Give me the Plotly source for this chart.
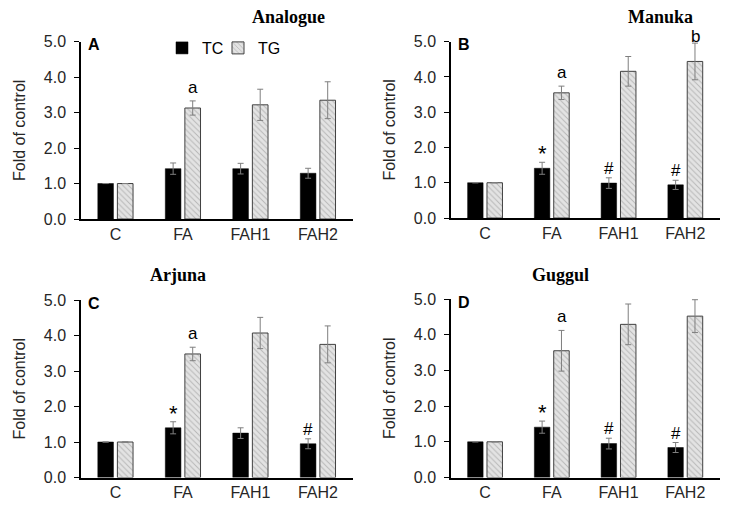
import plotly.graph_objects as go

categories = ["C", "FA", "FAH1", "FAH2"]
panels = ["Analogue", "Manuka", "Arjuna", "Guggul"]
letters = ["A", "B", "C", "D"]

tc_values = {
    "Analogue": [1.0, 1.42, 1.42, 1.29],
    "Manuka": [1.0, 1.41, 0.99, 0.94],
    "Arjuna": [1.0, 1.40, 1.25, 0.95],
    "Guggul": [1.0, 1.41, 0.95, 0.84],
}
tc_err = {
    "Analogue": [0.0, 0.16, 0.15, 0.14],
    "Manuka": [0.0, 0.17, 0.15, 0.13],
    "Arjuna": [0.0, 0.17, 0.15, 0.14],
    "Guggul": [0.0, 0.17, 0.15, 0.14],
}
tg_values = {
    "Analogue": [1.0, 3.13, 3.22, 3.35],
    "Manuka": [1.0, 3.55, 4.16, 4.44],
    "Arjuna": [1.0, 3.48, 4.07, 3.75],
    "Guggul": [1.0, 3.55, 4.29, 4.52],
}
tg_err = {
    "Analogue": [0.0, 0.20, 0.44, 0.52],
    "Manuka": [0.0, 0.19, 0.42, 0.52],
    "Arjuna": [0.0, 0.19, 0.44, 0.52],
    "Guggul": [0.0, 0.57, 0.57, 0.46],
}
# significance marks: (panel, category, series, symbol)
marks = [
    ("Analogue", "FA", "TG", "a"),
    ("Manuka", "FA", "TG", "a"),
    ("Manuka", "FAH2", "TG", "b"),
    ("Manuka", "FA", "TC", "*"),
    ("Manuka", "FAH1", "TC", "#"),
    ("Manuka", "FAH2", "TC", "#"),
    ("Arjuna", "FA", "TG", "a"),
    ("Arjuna", "FA", "TC", "*"),
    ("Arjuna", "FAH2", "TC", "#"),
    ("Guggul", "FA", "TG", "a"),
    ("Guggul", "FA", "TC", "*"),
    ("Guggul", "FAH1", "TC", "#"),
    ("Guggul", "FAH2", "TC", "#"),
]

W, H = 734, 516
xdoms = [[81 / W, 353 / W], [451 / W, 720 / W], [81 / W, 353 / W], [451 / W, 720 / W]]
ydoms = [[1 - 219 / H, 1 - 41.7 / H], [1 - 218 / H, 1 - 41.7 / H],
         [1 - 477.5 / H, 1 - 300 / H], [1 - 477.5 / H, 1 - 299 / H]]
title_pos = [(288, 17), (660, 17), (178, 275), (560, 275)]

fig = go.Figure()
tick_font = dict(family="Liberation Sans, Arial", size=16, color="#262626")
offset_px = 9.75

for i, p in enumerate(panels):
    sfx = "" if i == 0 else str(i + 1)
    xa, ya = "x" + sfx, "y" + sfx
    fig.add_trace(go.Bar(
        x=categories, y=tc_values[p], name="TC", xaxis=xa, yaxis=ya,
        marker=dict(color="#000000", line=dict(color="#000000", width=0.5)),
        error_y=dict(type="data", array=tc_err[p], color="#7f7f7f", thickness=1, width=3),
        showlegend=(i == 0), legend="legend",
    ))
    fig.add_trace(go.Bar(
        x=categories, y=tg_values[p], name="TG", xaxis=xa, yaxis=ya,
        marker=dict(color="#e3e3e3", line=dict(color="#404040", width=1),
                    pattern=dict(shape="\\", fgcolor="#8c8c8c", bgcolor="#e3e3e3",
                                 size=4, solidity=0.25)),
        error_y=dict(type="data", array=tg_err[p], color="#7f7f7f", thickness=1, width=3),
        showlegend=(i == 0), legend="legend2",
    ))
    fig.update_layout(**{
        "xaxis" + sfx: dict(domain=xdoms[i], anchor=ya, type="category",
                            categoryorder="array", categoryarray=categories,
                            range=[-0.51, 3.52], showline=True, linecolor="#000000",
                            linewidth=1.5, ticks="", tickfont=tick_font, showgrid=False,
                            zeroline=False, fixedrange=True, automargin=False),
        "yaxis" + sfx: dict(domain=ydoms[i], anchor=xa, range=[0, 5], dtick=1,
                            tickformat=".1f", showline=True, linecolor="#000000",
                            linewidth=1.5, showgrid=False,
                            zeroline=False, ticks="outside", ticklen=5, tickwidth=1.2,
                            tickcolor="#000000", tickfont=tick_font, ticklabelstandoff=5,
                            automargin=False,
                            title=dict(text="Fold of control", font=tick_font, standoff=14)),
    })
    tx, ty = title_pos[i]
    fig.add_annotation(text="<b>" + p + "</b>", x=tx / W, y=1 - ty / H, xref="paper",
                       yref="paper", showarrow=False, xanchor="center", yanchor="middle",
                       font=dict(family="Liberation Serif, DejaVu Serif", size=18, color="#000"))
    fig.add_annotation(text="<b>" + letters[i] + "</b>", x=0, y=1.0,
                       xref=xa + " domain", yref=ya + " domain", showarrow=False,
                       xanchor="left", yanchor="middle", xshift=5, yshift=-3,
                       font=dict(family="Liberation Sans, Arial", size=16, color="#000"))

for p, cat, ser, sym in marks:
    i = panels.index(p)
    sfx = "" if i == 0 else str(i + 1)
    k = categories.index(cat)
    if ser == "TC":
        top = tc_values[p][k] + tc_err[p][k]
        sh = -offset_px
    else:
        top = tg_values[p][k] + tg_err[p][k]
        sh = offset_px
    ysh = {"a": 2, "b": -5, "#": -2, "*": -6}[sym]
    fig.add_annotation(text=sym, x=cat, y=top, xref="x" + sfx, yref="y" + sfx,
                       showarrow=False, xanchor="center", yanchor="bottom",
                       xshift=sh, yshift=ysh,
                       font=dict(family="Liberation Sans, Arial",
                                 size=22 if sym == "*" else 17, color="#000"))

legend_common = dict(orientation="h", xanchor="left", yanchor="middle",
                     font=dict(family="Liberation Sans, Arial", size=16, color="#000"),
                     bgcolor="rgba(0,0,0,0)", itemwidth=30, borderwidth=0)
fig.update_layout(
    width=W, height=H, margin=dict(l=0, r=0, t=0, b=0, autoexpand=False),
    paper_bgcolor="white", plot_bgcolor="white",
    barmode="group", bargap=0.42, bargroupgap=0.2,
    legend=dict(x=162 / W, y=1 - 48 / H, **legend_common),
    legend2=dict(x=218 / W, y=1 - 48 / H, **legend_common),
)

fig.write_html("out.html", config={"displayModeBar": False},
               post_script="document.body.style.margin='0';document.body.style.overflow='hidden';")
